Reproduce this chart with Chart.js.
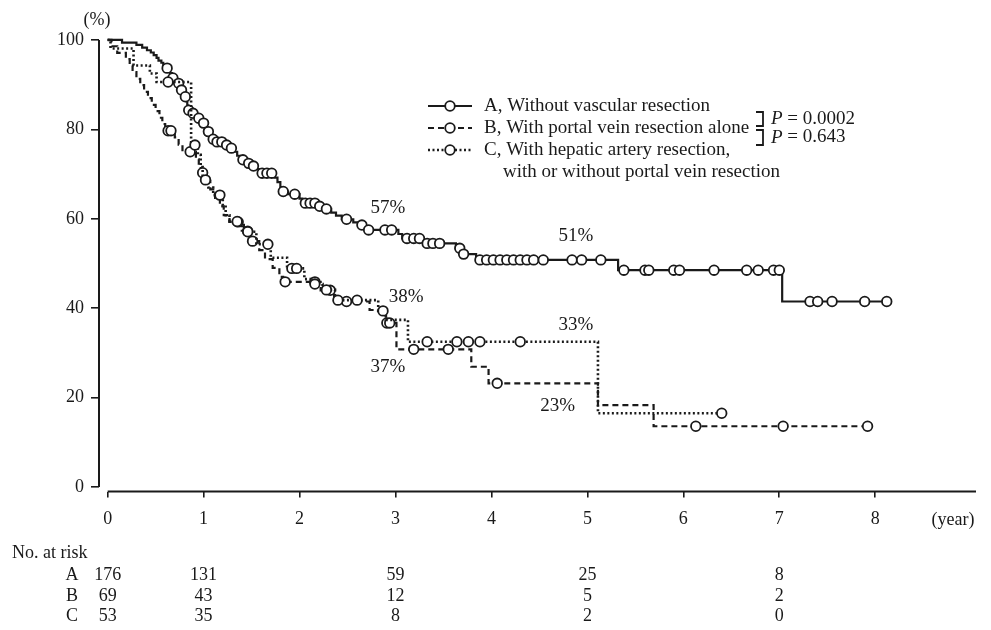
<!DOCTYPE html>
<html><head><meta charset="utf-8">
<script src="https://cdn.jsdelivr.net/npm/chart.js@4.4.1/dist/chart.umd.min.js"></script>
<style>html,body{margin:0;padding:0;background:#fff;}#wrap{width:991px;height:630px;position:relative;}</style>
</head><body><div id="wrap"><canvas id="c" width="991" height="630"></canvas></div>
<script>
// ---------- data ----------
const xTickValues = [0, 1, 2, 3, 4, 5, 6, 7, 8];
const yTickValues = [0, 20, 40, 60, 80, 100];
const groupLabels = ['A, Without vascular resection', 'B, With portal vein resection alone', 'C, With hepatic artery resection,'];
const groupCSecondLine = 'with or without portal vein resection';
const pValues = ['0.0002', '0.643'];

// Group A: event times (years) and survival (%) after each event; censor times
const aEventTimes = [0.15,0.30,0.36,0.41,0.45,0.48,0.51,0.53,0.56,0.58,0.60,0.65,0.67,0.70,0.72,0.76,0.79,0.80,0.82,0.83,0.84,0.87,0.93,0.98,1.02,1.04,1.07,1.09,1.12,1.22,1.27,1.32,1.35,1.38,1.44,1.50,1.55,1.58,1.74,1.77,1.80,1.82,1.88,2.00,2.03,2.18,2.25,2.33,2.38,2.44,2.56,2.61,2.69,3.03,3.07,3.29,3.63,3.69,3.84,5.32,7.03];
const aEventSurv  = [99.4,98.9,98.3,97.7,97.2,96.6,96.0,95.4,94.9,94.3,93.7,92.6,91.5,90.9,90.3,88.8,88.0,87.3,86.3,85.3,84.3,83.6,82.5,81.4,80.4,79.5,78.7,77.8,77.2,76.5,75.8,75.0,74.1,73.2,72.4,71.8,71.1,70.2,69.2,68.2,67.1,66.1,65.5,64.5,63.5,62.8,62.2,61.4,60.7,59.9,59.2,58.6,57.5,56.6,55.6,54.5,53.4,52.1,50.8,48.5,41.5];
const aCensorTimes = [0.62,0.68,0.74,0.77,0.81,0.845,0.89,0.95,1.00,1.05,1.10,1.14,1.19,1.24,1.29,1.41,1.47,1.52,1.61,1.66,1.71,1.83,1.95,2.06,2.11,2.16,2.21,2.28,2.49,2.65,2.72,2.89,2.96,3.12,3.19,3.25,3.33,3.39,3.46,3.67,3.71,3.88,3.95,4.02,4.09,4.16,4.23,4.30,4.37,4.44,4.54,4.84,4.94,5.14,5.38,5.60,5.64,5.90,5.96,6.32,6.66,6.78,6.94,7.00,7.32,7.40,7.55,7.89,8.12];

// Group B
const bEventTimes = [0.04,0.10,0.19,0.23,0.26,0.30,0.34,0.38,0.42,0.46,0.50,0.54,0.57,0.60,0.70,0.74,0.78,0.92,0.95,0.97,1.03,1.07,1.12,1.17,1.21,1.27,1.42,1.49,1.58,1.64,1.72,1.79,1.83,2.22,2.36,2.73,2.90,3.01,3.79,3.97,5.11,5.69];
const bEventSurv  = [98.6,97.1,95.7,94.2,92.8,91.3,89.9,88.4,87.0,85.5,84.1,82.6,81.2,79.7,78.2,76.6,75.0,73.3,71.9,70.3,68.5,66.6,64.7,62.8,60.8,59.3,57.2,55.0,53.0,51.0,49.0,47.0,45.9,44.0,41.5,39.6,36.7,30.8,26.9,23.2,18.3,13.6];
const bCensorTimes = [0.63,0.66,0.86,0.99,1.36,1.46,1.51,1.85,2.16,2.32,2.49,2.91,2.94,3.19,3.55,4.06,6.13,7.04,7.92];

// Group C
const cEventTimes = [0.03,0.27,0.44,0.51,0.87,0.94,0.97,0.99,1.05,1.10,1.20,1.23,1.27,1.40,1.55,1.70,1.87,2.05,2.12,2.24,2.37,2.82,2.90,3.13,5.11];
const cEventSurv  = [98.1,94.3,92.5,90.6,76.5,74.3,71.6,68.7,67.0,65.3,63.0,60.8,59.4,57.1,54.3,51.3,48.9,46.5,45.4,44.1,41.8,39.4,37.4,32.5,16.5];
const cCensorTimes = [0.63,0.91,1.02,1.17,1.35,1.46,1.67,1.92,1.97,2.16,2.28,2.40,2.60,2.87,3.33,3.64,3.76,3.88,4.30,6.40];

// Numbers at risk
const riskTimes = [0, 1, 3, 5, 7];
const riskA = [176, 131, 59, 25, 8];
const riskB = [69, 43, 12, 5, 2];
const riskC = [53, 35, 8, 2, 0];

// Survival annotations
const pctTexts = ['57%', '51%', '38%', '37%', '33%', '23%'];
const pctAt = [[2.92, 62.4], [4.88, 56.2], [3.11, 42.5], [2.92, 26.8], [4.88, 36.2], [4.69, 18.1]];

// ---------- build ----------
function buildKM(evT, evS, cT) {
  const pts = [{x: 0, y: 100, c: false}];
  evT.forEach((t, i) => pts.push({x: t, y: evS[i], c: false}));
  cT.forEach(t => {
    let s = 100;
    for (let i = 0; i < evT.length; i++) if (evT[i] <= t) s = evS[i];
    pts.push({x: t, y: s, c: true});
  });
  pts.sort((p, q) => p.x - q.x || (p.c ? 1 : 0) - (q.c ? 1 : 0));
  return pts;
}

const FONT = "'Liberation Serif', 'Times New Roman', serif";
const INK = '#1a1a1a';
const styles = [
  {dash: [], width: 2.2},
  {dash: [6, 4], width: 2.2},
  {dash: [2, 2.5], width: 2.6}
];

function ds(pts, st) {
  return {
    data: pts,
    borderColor: INK,
    borderWidth: st.width,
    borderDash: st.dash,
    stepped: true,
    fill: false,
    tension: 0,
    pointRadius: ctx => (ctx.raw && ctx.raw.c ? 4.8 : 0),
    pointHoverRadius: 0,
    pointBackgroundColor: '#fff',
    pointBorderColor: INK,
    pointBorderWidth: 1.8
  };
}

const overlay = {
  id: 'overlay',
  afterDraw(chart) {
    const ctx = chart.ctx, xs = chart.scales.x, ys = chart.scales.y, ca = chart.chartArea;
    ctx.save();
    ctx.strokeStyle = INK; ctx.fillStyle = INK; ctx.lineWidth = 2; ctx.setLineDash([]);
    // axes
    ctx.beginPath();
    ctx.moveTo(ca.left, ys.getPixelForValue(100)); ctx.lineTo(ca.left, ys.getPixelForValue(0));
    ctx.stroke();
    ctx.beginPath();
    ctx.moveTo(xs.getPixelForValue(0), ca.bottom); ctx.lineTo(ca.right, ca.bottom);
    ctx.stroke();
    ctx.textAlign = 'center'; ctx.textBaseline = 'middle';
    ctx.font = '18px ' + FONT;
    ctx.fillText('(%)', 97, 20);
    ctx.fillText('(year)', 953, ca.bottom + 29);
    // annotations
    ctx.font = '19px ' + FONT;
    pctTexts.forEach((t, i) => ctx.fillText(t, xs.getPixelForValue(pctAt[i][0]), ys.getPixelForValue(pctAt[i][1])));
    // legend
    const rows = [106, 128, 150];
    rows.forEach((ry, i) => {
      ctx.beginPath(); ctx.setLineDash(styles[i].dash); ctx.lineWidth = styles[i].width;
      ctx.moveTo(428, ry); ctx.lineTo(472, ry); ctx.stroke();
      ctx.setLineDash([]); ctx.lineWidth = 1.8;
      ctx.beginPath(); ctx.arc(450, ry, 4.8, 0, Math.PI * 2); ctx.fillStyle = '#fff'; ctx.fill(); ctx.stroke();
      ctx.fillStyle = INK; ctx.textAlign = 'left';
      ctx.fillText(groupLabels[i], 484, ry);
    });
    ctx.fillText(groupCSecondLine, 503, 172);
    // brackets and P values
    ctx.lineWidth = 1.8;
    [[112, 126], [130, 145]].forEach(([a, b], i) => {
      ctx.beginPath(); ctx.moveTo(756, a); ctx.lineTo(763, a); ctx.lineTo(763, b); ctx.lineTo(756, b); ctx.stroke();
      const ty = (a + b) / 2;
      ctx.font = 'italic 19px ' + FONT; ctx.fillText('P', 771, ty);
      const pw = ctx.measureText('P').width;
      ctx.font = '19px ' + FONT; ctx.fillText(' = ' + pValues[i], 771 + pw, ty);
    });
    // numbers at risk
    ctx.font = '18px ' + FONT;
    ctx.textAlign = 'left';
    ctx.fillText('No. at risk', 12, 553);
    const rr = [575, 596, 616], letters = ['A', 'B', 'C'], risks = [riskA, riskB, riskC];
    ctx.textAlign = 'center';
    rr.forEach((ry, i) => {
      ctx.fillText(letters[i], 72, ry);
      riskTimes.forEach((t, j) => ctx.fillText(String(risks[i][j]), xs.getPixelForValue(t), ry));
    });
    ctx.restore();
  }
};

new Chart(document.getElementById('c'), {
  type: 'line',
  data: { datasets: [
    ds(buildKM(cEventTimes, cEventSurv, cCensorTimes), styles[2]),
    ds(buildKM(bEventTimes, bEventSurv, bCensorTimes), styles[1]),
    ds(buildKM(aEventTimes, aEventSurv, aCensorTimes), styles[0])
  ]},
  options: {
    responsive: false, animation: false, devicePixelRatio: 1,
    layout: { padding: { top: 35.5, left: 0, right: 15, bottom: 0 } },
    plugins: { legend: { display: false }, tooltip: { enabled: false } },
    scales: {
      x: {
        type: 'linear', min: -0.09, max: 9.05,
        afterBuildTicks: s => { s.ticks = xTickValues.map(v => ({value: v})); },
        afterFit: s => { s.height = 138.5; },
        grid: { drawOnChartArea: false, drawTicks: true, tickLength: 6, color: INK, lineWidth: 1.6 },
        border: { display: false },
        ticks: { color: INK, font: { family: FONT, size: 18 }, padding: 11, maxRotation: 0, autoSkip: false, callback: v => String(v) }
      },
      y: {
        min: -1, max: 101,
        afterBuildTicks: s => { s.ticks = yTickValues.map(v => ({value: v})); },
        afterFit: s => { s.width = 99; },
        grid: { drawOnChartArea: false, drawTicks: true, tickLength: 8, color: INK, lineWidth: 1.6 },
        border: { display: false },
        ticks: { color: INK, font: { family: FONT, size: 18 }, padding: 7, callback: v => String(v) }
      }
    }
  },
  plugins: [overlay]
});
</script></body></html>
